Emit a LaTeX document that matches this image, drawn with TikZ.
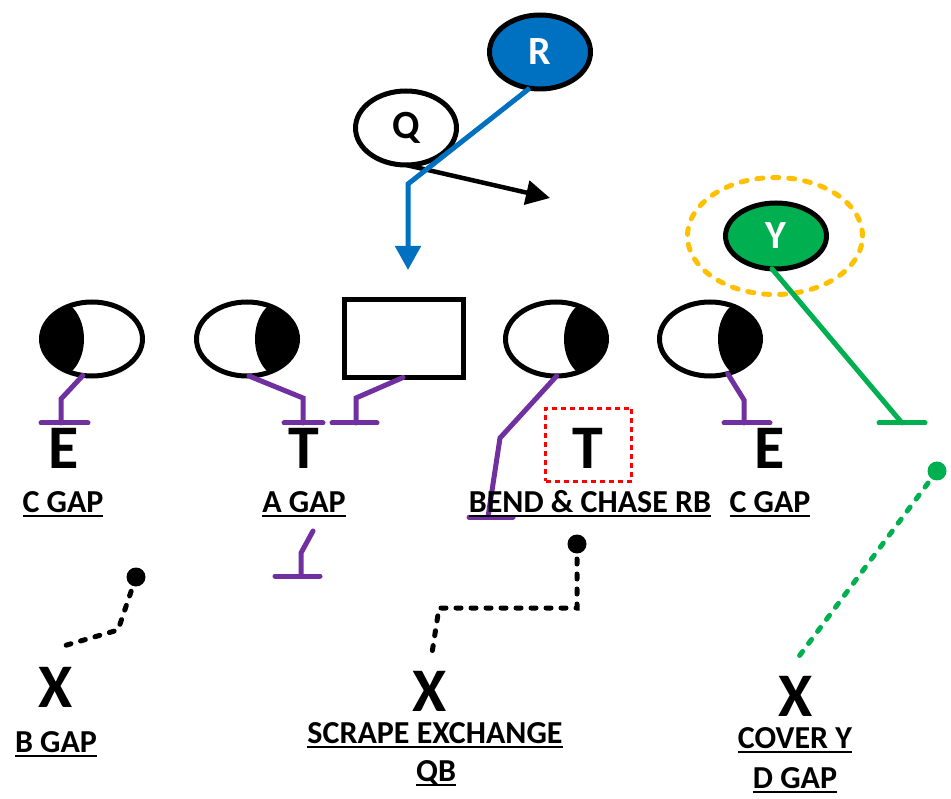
\documentclass[tikz,border=0pt]{standalone}
\usepackage{fontspec}
\setmainfont{Carlito}
\usetikzlibrary{arrows.meta,shapes.geometric}
\definecolor{pblue}{HTML}{0070C0}
\definecolor{ppurple}{HTML}{7030A0}
\definecolor{pgreen}{HTML}{00B050}
\definecolor{pgold}{HTML}{FFC000}
% thick underline placed a few points under the baseline
\newcommand\ultext[1]{\leavevmode\setbox0\hbox{#1}\rlap{\vrule height -3pt depth 5pt width \wd0}\box0}
\begin{document}
\begin{tikzpicture}[x=1pt,y=-1pt,
  player/.style={ellipse, draw=black, line width=5pt, fill=white,
    minimum width=101pt, minimum height=74pt, inner sep=0pt, outer sep=0pt},
  darkleft/.style={player, path picture={\fill[black]
    ([xshift=-36pt]path picture bounding box.center) ellipse [x radius=28pt, y radius=39pt];}},
  darkright/.style={player, path picture={\fill[black]
    ([xshift=36pt]path picture bounding box.center) ellipse [x radius=28pt, y radius=39pt];}},
  back/.style={ellipse, draw=black, line width=5pt, minimum width=101pt,
    minimum height=74pt, inner sep=0pt, outer sep=0pt,
    font=\bfseries\fontsize{40}{44}\selectfont},
  purpleline/.style={draw=ppurple, line width=5pt, line cap=round},
  greenline/.style={draw=pgreen, line width=5pt, line cap=round},
  dotline/.style={line width=5pt, line cap=round, dash pattern=on 5pt off 10pt},
  spot/.style={circle, fill, minimum size=19pt, inner sep=0pt},
  lbl/.style={font=\bfseries\fontsize{32}{38}\selectfont, inner sep=0pt, anchor=base},
  big/.style={font=\bfseries\fontsize{62}{70}\selectfont, inner sep=0pt, anchor=base},
]
\fill[white] (0,0) rectangle (951,799);
\useasboundingbox (0,0) rectangle (951,799);

% backfield
\node[back, fill=pblue, text=white] (rr) at (540,52) {R};
\node[back, fill=white] (qq) at (406,128) {Q};

% Y with its highlight ring
\node[ellipse, draw=pgold, line width=5pt, dash pattern=on 6pt off 10pt, line cap=round,
  minimum width=175pt, minimum height=117pt] (ring) at (775,236) {};
\node[back, fill=pgreen, text=white, minimum height=66pt] (yy) at (776,236) {Y};

% line
\node[darkleft] (le) at (92,339) {};
\node[darkright] (lt) at (247,339) {};
\node[draw=black, line width=5pt, fill=white, minimum width=119pt, minimum height=78pt,
  inner sep=0pt, outer sep=0pt] (cc) at (404,338.5) {};
\node[darkright] (rt) at (556,339) {};
\node[darkright] (re) at (710,339) {};

% routes
\coordinate (qarrow) at (550,198);
\draw[line width=4.5pt, -{Triangle[width=24pt,length=24pt]}] (qq.south) -- (qarrow);
\coordinate (rarrow) at (408,270);
\draw[pblue, line width=5pt, -{Triangle[width=25pt,length=24pt]}]
  (rr.254) -- (408,184) -- (rarrow);

% blocks
\draw[purpleline] (le.256) -- (61,399) -- (61,423);
\draw[purpleline] (41,423) -- (88,423);
\draw[purpleline] (lt.273) -- (303,398) -- (303,423);
\draw[purpleline] (284,423) -- (323,423);
\draw[purpleline] ([xshift=-1pt]cc.south) -- (356,398) -- (356,423);
\draw[purpleline] (332,423) -- (377,423);
\draw[purpleline] (rt.271) -- (500,438) -- (488,517);
\draw[purpleline] (469,517) -- (513,517);
\draw[purpleline] (re.297) -- (744,400) -- (744,423);
\draw[purpleline] (724,423) -- (770,423);
\draw[purpleline] (313,531) -- (301,553) -- (301,576);
\draw[purpleline] (275,576) -- (320,576);
\draw[greenline] (yy.263) -- (902,423);
\draw[greenline] (879,423) -- (925,423);

% defensive line letters
\node[big] (e1) at (64,468) {E};
\node[big] (t1) at (304,468) {T};
\node[big] (t2) at (588,468) {T};
\node[draw=red, line width=3pt, dash pattern=on 5pt off 4pt, minimum width=86pt,
  minimum height=73pt, inner sep=0pt] (tbox) at (588.5,445) {};
\node[big] (e2) at (770,468) {E};

\node[lbl] (l1) at (63,512) {\ultext{C GAP}};
\node[lbl] (l2) at (304,512) {\ultext{A GAP}};
\node[lbl] (l3) at (590,512) {\ultext{BEND \& CHASE RB}};
\node[lbl] (l4) at (770,512) {\ultext{C GAP}};

% second level
\node[spot] (d1) at (136,577) {};
\node[spot] (d2) at (577,544) {};
\node[spot, fill=pgreen] (d3) at (937,471) {};
\coordinate (p1) at (60,647);
\coordinate (p2) at (432,653);
\coordinate (p3) at (794,663);
\draw[dotline] (d1.center) -- (118,630) -- (p1);
\draw[dotline] (d2.center) -- (577,608) -- (439,608) -- (p2);
\draw[dotline, pgreen] (d3.center) -- (p3);

\node[big] (x1) at (56,707) {X};
\node[big] (x2) at (430,711) {X};
\node[big] (x3) at (796,716) {X};

\node[lbl] (b1) at (56,752) {\ultext{B GAP}};
\node[lbl] (b2) at (435,743) {\ultext{SCRAPE EXCHANGE}};
\node[lbl] (b3) at (436,781) {\ultext{QB}};
\node[lbl] (b4) at (795,748) {\ultext{COVER Y}};
\node[lbl] (b5) at (795,788) {\ultext{D GAP}};
\end{tikzpicture}
\end{document}
